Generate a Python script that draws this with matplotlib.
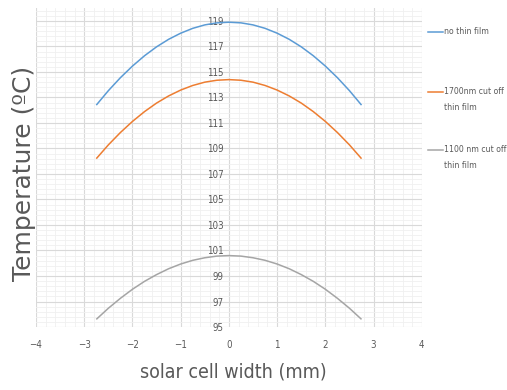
import matplotlib
matplotlib.use("Agg")
from matplotlib import pyplot as plt
from matplotlib.lines import Line2D
from matplotlib.ticker import MultipleLocator, FixedLocator
import numpy as np

# values
width_mm = [-2.75, -2.5, -2.25, -2.0, -1.75, -1.5, -1.25, -1.0, -0.75, -0.5, -0.25, 0.0,
            0.25, 0.5, 0.75, 1.0, 1.25, 1.5, 1.75, 2.0, 2.25, 2.5, 2.75]
no_film = [112.40, 113.53, 114.55, 115.46, 116.27, 116.97, 117.56, 118.04, 118.42, 118.69, 118.85, 118.90,
           118.85, 118.69, 118.42, 118.04, 117.56, 116.97, 116.27, 115.46, 114.55, 113.53, 112.40]
cut_1700 = [108.20, 109.28, 110.25, 111.12, 111.89, 112.56, 113.12, 113.58, 113.94, 114.20, 114.35, 114.40,
            114.35, 114.20, 113.94, 113.58, 113.12, 112.56, 111.89, 111.12, 110.25, 109.28, 108.20]
cut_1100 = [95.60, 96.47, 97.25, 97.96, 98.58, 99.11, 99.57, 99.94, 100.23, 100.43, 100.56, 100.60,
            100.56, 100.43, 100.23, 99.94, 99.57, 99.11, 98.58, 97.96, 97.25, 96.47, 95.60]
series_labels = ["no thin film", "1700nm cut off\nthin film", "1100 nm cut off\nthin film"]
series_colors = ["#5B9BD5", "#ED7D31", "#A5A5A5"]
x_ticks = [-4, -3, -2, -1, 0, 1, 2, 3, 4]
y_ticks = [95, 97, 99, 101, 103, 105, 107, 109, 111, 113, 115, 117, 119]

plt.rcParams['font.family'] = ['DejaVu Sans']
plt.rcParams['font.stretch'] = 'condensed'
text_gray = "#595959"

fig = plt.figure(figsize=(5.07, 3.9), dpi=100)
ax = fig.add_axes([0.071, 0.1615, 0.761, 0.8175])

for ys, color in zip([no_film, cut_1700, cut_1100], series_colors):
    ax.plot(width_mm, ys, color=color, lw=1.1, solid_capstyle='butt')

ax.set_xlim(-4, 4)
ax.set_ylim(95, 120)
ax.xaxis.set_major_locator(FixedLocator(x_ticks))
ax.yaxis.set_major_locator(FixedLocator(y_ticks))
ax.xaxis.set_minor_locator(MultipleLocator(0.2))
ax.yaxis.set_minor_locator(FixedLocator(np.arange(95, 120.01, 0.4)))
ax.grid(which='major', color='#D9D9D9', lw=0.8)
ax.grid(which='minor', color='#F0F0F0', lw=0.6)
ax.set_axisbelow(True)

for s in ['top', 'right', 'bottom']:
    ax.spines[s].set_visible(False)
ax.spines['left'].set_position(('data', 0))
ax.spines['left'].set_visible(False)
ax.tick_params(which='both', length=0, colors=text_gray, labelsize=7)
ax.tick_params(axis='x', pad=9)
ax.tick_params(axis='y', pad=4)

fig.text(0.047, 0.556, "Temperature (ºC)", rotation=90, ha='center', va='center',
         fontsize=18, color=text_gray, stretch='normal')
fig.text(0.46, 0.046, "solar cell width (mm)", ha='center', va='center',
         fontsize=14, color=text_gray)

# legend drawn at the right, line next to first text row
legend_y = [0.918, 0.764, 0.615]
for lab, color, ly in zip(series_labels, series_colors, legend_y):
    fig.add_artist(Line2D([0.845, 0.874], [ly, ly], color=color, lw=1.1,
                          transform=fig.transFigure))
    fig.text(0.876, ly + 0.013, lab, ha='left', va='top', fontsize=6.2,
             color=text_gray, linespacing=2.0)

fig.savefig("out.png", dpi=100)
